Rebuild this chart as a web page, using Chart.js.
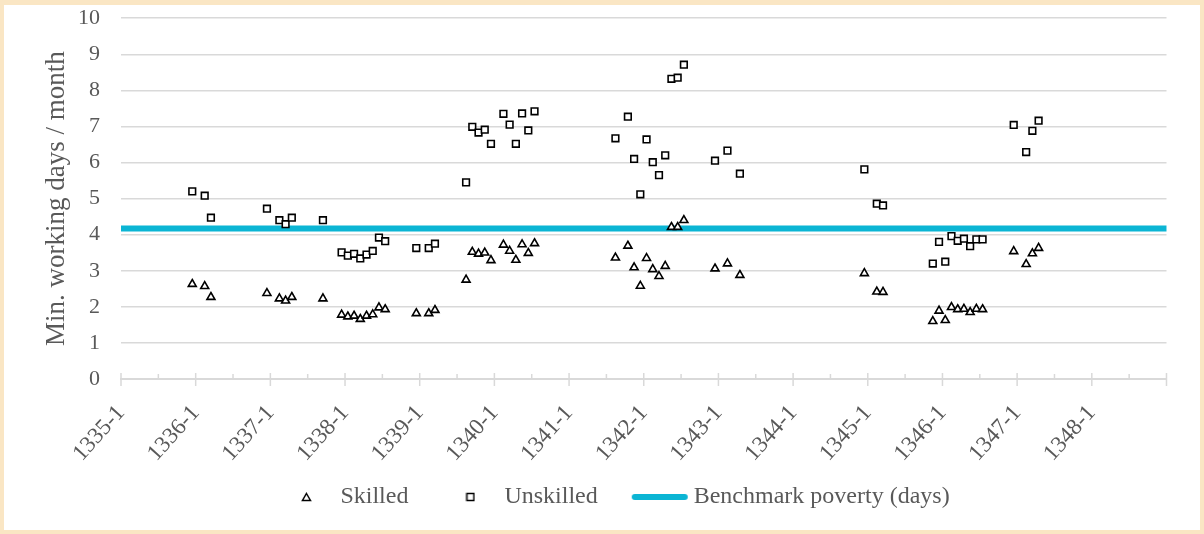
<!DOCTYPE html>
<html>
<head>
<meta charset="utf-8">
<title>Min. working days / month</title>
<script src="https://cdn.jsdelivr.net/npm/chart.js@4.4.1/dist/chart.umd.min.js"></script>
<style>
  html, body { margin: 0; padding: 0; background: #fae6c4; }
  #frame { position: absolute; left: 4px; top: 5px; width: 1196px; height: 525px; background: #ffffff; }
</style>
</head>
<body>
<div id="frame"><canvas id="chart" width="1196" height="525"></canvas></div>
<script>
// observation months (year-month), shared by both wage series
const months = [
  "1335-12", "1336-2", "1336-3", "1336-12", "1337-2", "1337-3", "1337-4", "1337-9",
  "1337-12", "1338-1", "1338-2", "1338-3", "1338-4", "1338-5", "1338-6", "1338-7",
  "1338-12", "1339-2", "1339-3", "1339-8", "1339-9", "1339-10", "1339-11", "1339-12",
  "1340-2", "1340-3", "1340-4", "1340-5", "1340-6", "1340-7",
  "1341-8", "1341-10", "1341-11", "1341-12", "1342-1", "1342-2", "1342-3", "1342-4",
  "1342-5", "1342-6", "1342-7", "1342-12", "1343-2", "1343-4",
  "1344-12", "1345-2", "1345-3", "1345-11", "1345-12", "1346-1", "1346-2", "1346-3",
  "1346-4", "1346-5", "1346-6", "1346-7", "1346-12", "1347-2", "1347-3", "1347-4"
];

const skilled = [
  2.63, 2.57, 2.27, 2.38, 2.23, 2.17, 2.27, 2.23,
  1.78, 1.73, 1.75, 1.66, 1.75, 1.79, 1.98, 1.93,
  1.82, 1.82, 1.91, 2.75, 3.52, 3.47, 3.50, 3.29,
  3.72, 3.55, 3.30, 3.73, 3.49, 3.76,
  3.36, 3.69, 3.09, 2.58, 3.35, 3.04, 2.85, 3.13,
  4.21, 4.21, 4.40, 3.06, 3.20, 2.88,
  2.93, 2.42, 2.41, 1.60, 1.89, 1.63, 1.99, 1.93,
  1.94, 1.85, 1.94, 1.93, 3.54, 3.18, 3.48, 3.63
];

const unskilled = [
  5.20, 5.08, 4.47, 4.72, 4.40, 4.29, 4.47, 4.40,
  3.51, 3.42, 3.47, 3.34, 3.45, 3.55, 3.92, 3.82,
  3.63, 3.63, 3.75, 5.45, 6.99, 6.83, 6.91, 6.52,
  7.35, 7.05, 6.52, 7.36, 6.89, 7.42,
  6.67, 7.27, 6.10, 5.12, 6.64, 6.01, 5.65, 6.20,
  8.32, 8.35, 8.71, 6.05, 6.33, 5.69,
  5.81, 4.86, 4.81, 3.20, 3.80, 3.25, 3.96, 3.83,
  3.89, 3.68, 3.87, 3.87, 7.04, 6.29, 6.88, 7.16
];

const benchmarkYears = [1335, 1349];
const benchmarkDays = [4.17, 4.17];

const xTickLabels = [
  "1335-1", "1336-1", "1337-1", "1338-1", "1339-1", "1340-1", "1341-1",
  "1342-1", "1343-1", "1344-1", "1345-1", "1346-1", "1347-1", "1348-1"
];

const textColor = "#595959";
const gridColor = "#d9d9d9";
const benchColor = "#0bb5d4";
const fontFamily = "'Liberation Serif', 'Times New Roman', serif";

// month -> position on a continuous year axis (middle of month)
function toYear(label) {
  const [y, m] = label.split("-").map(Number);
  return y + (m - 0.55) / 12;
}

function makeMarker(w, h, draw) {
  const c = document.createElement("canvas");
  c.width = w;
  c.height = h;
  draw(c.getContext("2d"));
  return c;
}

const triangleMarker = makeMarker(11, 10, (ctx) => {
  ctx.fillStyle = "#fff";
  ctx.strokeStyle = "#000";
  ctx.lineWidth = 1.5;
  ctx.beginPath();
  ctx.moveTo(5.5, 1.5);
  ctx.lineTo(9.5, 8.5);
  ctx.lineTo(1.5, 8.5);
  ctx.closePath();
  ctx.fill();
  ctx.stroke();
});

const squareMarker = makeMarker(10, 10, (ctx) => {
  ctx.fillStyle = "#fff";
  ctx.strokeStyle = "#000";
  ctx.lineWidth = 1.5;
  ctx.fillRect(1.5, 1.5, 7, 7);
  ctx.strokeRect(1.5, 1.5, 7, 7);
});

const lineMarker = makeMarker(58, 8, (ctx) => {
  ctx.strokeStyle = benchColor;
  ctx.lineWidth = 6;
  ctx.lineCap = "round";
  ctx.beginPath();
  ctx.moveTo(4, 4);
  ctx.lineTo(54, 4);
  ctx.stroke();
});

const legendMarkers = [triangleMarker, squareMarker, lineMarker];

// the slanted year labels hang below the x box; let them show in full
const labelRoom = {
  id: "labelRoom",
  afterLayout(chart) {
    chart.scales.x.bottom = chart.height;
  }
};

// Excel-style tick marks: majors cross the axis, minors point inside
const axisTicks = {
  id: "axisTicks",
  afterDraw(chart) {
    const scale = chart.scales.x;
    const ctx = chart.ctx;
    const base = scale.top;
    ctx.save();
    ctx.strokeStyle = gridColor;
    ctx.lineWidth = 1.5;
    scale.ticks.forEach((tick) => {
      const px = scale.getPixelForValue(tick.value);
      const major = Number.isInteger(tick.value);
      ctx.beginPath();
      ctx.moveTo(px, base - (major ? 6 : 5));
      ctx.lineTo(px, base + (major ? 7 : 0));
      ctx.stroke();
    });
    ctx.restore();
  }
};

new Chart(document.getElementById("chart"), {
  type: "scatter",
  data: {
    datasets: [
      {
        label: "Skilled",
        data: months.map((m, i) => ({ x: toYear(m), y: skilled[i] })),
        pointStyle: "triangle",
        pointRadius: 4.6,
        pointBorderWidth: 1.6,
        pointBorderColor: "#000",
        pointBackgroundColor: "#fff",
        order: 1
      },
      {
        label: "Unskilled",
        data: months.map((m, i) => ({ x: toYear(m), y: unskilled[i] })),
        pointStyle: "rect",
        pointRadius: 4.7,
        pointBorderWidth: 1.6,
        pointBorderColor: "#000",
        pointBackgroundColor: "#fff",
        order: 2
      },
      {
        label: "Benchmark poverty (days)",
        type: "line",
        data: benchmarkYears.map((y, i) => ({ x: y, y: benchmarkDays[i] })),
        borderColor: benchColor,
        borderWidth: 6,
        borderCapStyle: "round",
        pointRadius: 0,
        order: 3
      }
    ]
  },
  options: {
    responsive: false,
    animation: false,
    devicePixelRatio: 1,
    layout: { padding: { left: 61, right: 31, top: 13, bottom: 11 } },
    plugins: {
      tooltip: { enabled: false },
      legend: {
        position: "bottom",
        labels: {
          usePointStyle: true,
          pointStyleWidth: 44,
          boxHeight: 6,
          padding: 40,
          color: textColor,
          font: { family: fontFamily, size: 24 },
          generateLabels: (chart) => chart.data.datasets.map((ds, i) => ({
            text: ds.label,
            fontColor: textColor,
            pointStyle: legendMarkers[i],
            fillStyle: "#fff",
            strokeStyle: "#000",
            lineWidth: 1.5,
            hidden: false,
            datasetIndex: i
          }))
        }
      }
    },
    scales: {
      x: {
        type: "linear",
        min: 1335,
        max: 1349,
        grid: { display: false },
        border: { color: gridColor, width: 2 },
        ticks: {
          stepSize: 0.5,
          autoSkip: false,
          maxRotation: 48,
          minRotation: 48,
          padding: 13,
          color: textColor,
          font: { family: fontFamily, size: 23 },
          callback: (value) => {
            const i = value - 1335;
            return Number.isInteger(i) ? (xTickLabels[i] || "") : "";
          }
        },
        afterFit: (scale) => { scale.height = 66; }
      },
      y: {
        min: 0,
        max: 10,
        grid: { color: gridColor, lineWidth: 1.5, tickLength: 21, tickColor: "rgba(0,0,0,0)" },
        border: { display: false },
        ticks: {
          stepSize: 1,
          padding: 0,
          color: textColor,
          font: { family: fontFamily, size: 22 }
        },
        title: {
          display: true,
          text: "Min. working days / month",
          color: textColor,
          font: { family: fontFamily, size: 27 },
          padding: { top: -24, bottom: 0 }
        },
        afterFit: (scale) => { scale.width = 56; }
      }
    }
  },
  plugins: [labelRoom, axisTicks]
});
</script>
</body>
</html>
